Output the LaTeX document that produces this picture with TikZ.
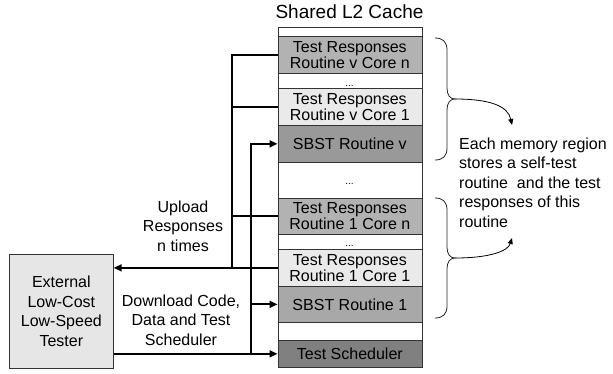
\documentclass[tikz,border=0pt]{standalone}
\usepackage{fontspec}
\setmainfont{Liberation Sans}
\usetikzlibrary{arrows.meta}
\definecolor{trn}{RGB}{178,178,178}
\definecolor{trone}{RGB}{234,234,234}
\definecolor{sbstv}{RGB}{153,153,153}
\definecolor{sbstone}{RGB}{168,168,168}
\definecolor{schedc}{RGB}{128,128,128}
\definecolor{testerc}{RGB}{230,230,230}
\begin{document}
\begin{tikzpicture}[x=1pt,y=-1pt,
  cell/.style={draw=black!80, line width=0.7pt, minimum width=144pt, inner sep=0pt,
    align=center, anchor=north west, font=\fontsize{16pt}{16pt}\selectfont},
  dots/.style={anchor=base, inner sep=0pt, font=\fontsize{10pt}{10pt}\selectfont},
  lbl/.style={align=center, inner sep=0pt, font=\fontsize{16pt}{19.5pt}\selectfont},
  conn/.style={line width=1.8pt, black},
  arr/.style={conn, -{Triangle[length=8pt,width=7pt]}},
  bracel/.style={line width=0.8pt, black!85},
  thinarr/.style={line width=0.8pt, black, -{Triangle[length=6pt,width=5pt]}}]
\useasboundingbox (0,0) rectangle (613,373);

\node[anchor=base, inner sep=0pt, font=\fontsize{19pt}{19pt}\selectfont] (title) at (349.5,18) {Shared L2 Cache};

\node[cell, minimum height=9pt] (c0) at (277.5,27) {};
\node[cell, fill=trn, minimum height=37pt] (trvn) at (277.5,36) {Test Responses\\Routine v Core n};
\node[cell, minimum height=15pt] (g1) at (277.5,73) {};
\node[cell, fill=trone, minimum height=37pt] (trv1) at (277.5,88) {Test Responses\\Routine v Core 1};
\node[cell, fill=sbstv, minimum height=37pt] (sbstv) at (277.5,125) {SBST Routine v};
\node[cell, minimum height=36pt] (g2) at (277.5,162) {};
\node[cell, fill=trn, minimum height=36pt] (tr1n) at (277.5,198) {Test Responses\\Routine 1 Core n};
\node[cell, minimum height=15pt] (g3) at (277.5,234) {};
\node[cell, fill=trone, minimum height=37pt] (tr11) at (277.5,249) {Test Responses\\Routine 1 Core 1};
\node[cell, fill=sbstone, minimum height=36pt] (sbst1) at (277.5,286) {SBST Routine 1};
\node[cell, minimum height=18pt] (g4) at (277.5,322) {};
\node[cell, fill=schedc, minimum height=27pt] (sched) at (277.5,340) {Test Scheduler};

\node[dots] (d1) at (349.5,86) {...};
\node[dots] (d2) at (349.5,184) {...};
\node[dots] (d3) at (349.5,246.5) {...};

\node[draw=black!80, fill=testerc, line width=0.7pt, minimum width=104pt, minimum height=114pt,
  inner sep=0pt, anchor=north west, align=center, font=\fontsize{16pt}{19.5pt}\selectfont]
  (tester) at (9,254) {External\\Low-Cost\\Low-Speed\\Tester};

\node[lbl] (up) at (183,226) {Upload\\Responses\\n times};
\node[lbl] (dn) at (181,320) {Download Code,\\Data and Test\\Scheduler};

\coordinate (upbus) at (232,0);
\coordinate (dnbus) at (251,0);

% upload
\draw[conn] (trvn.west) -- (trvn.west -| upbus) -- (tr11.west -| upbus);
\draw[conn] (trv1.west) -- (trv1.west -| upbus);
\draw[conn] (tr1n.west) -- (tr1n.west -| upbus);
\draw[arr] (tr11.west) -- (tr11.west -| tester.east);

% download
\draw[arr] (tester.east |- sched.west) -- (sched.west);
\draw[arr] (sched.west -| dnbus) -- (sbstv.west -| dnbus) -- (sbstv.west);
\draw[arr] (sbst1.west -| dnbus) -- (sbst1.west);

% braces
\draw[bracel] (435,38) .. controls (443,38) and (447,42) .. (447,50) -- (447,88)
  .. controls (447,95) and (450,99) .. (455,99)
  .. controls (450,99) and (447,103) .. (447,110) -- (447,148)
  .. controls (447,156) and (443,160) .. (435,160);
\draw[bracel] (435,198) .. controls (443,198) and (447,202) .. (447,210) -- (447,247)
  .. controls (447,254) and (450,258) .. (455,258)
  .. controls (450,258) and (447,262) .. (447,269) -- (447,306)
  .. controls (447,314) and (443,318) .. (435,318);

\coordinate (tip1) at (455,99);
\coordinate (tip2) at (455,258);
\coordinate (a1) at (512,125);
\coordinate (a2) at (512,238);

\node[align=left, anchor=north west, inner sep=0pt, font=\fontsize{16pt}{19.5pt}\selectfont]
  (note) at (459,137.5) {Each memory region\\stores a self-test\\routine \ and the test\\responses of this\\routine};

\draw[thinarr] (tip1) .. controls (490,99) and (508,106) .. (a1);
\draw[thinarr] (tip2) .. controls (490,258) and (508,251) .. (a2);
\end{tikzpicture}
\end{document}
